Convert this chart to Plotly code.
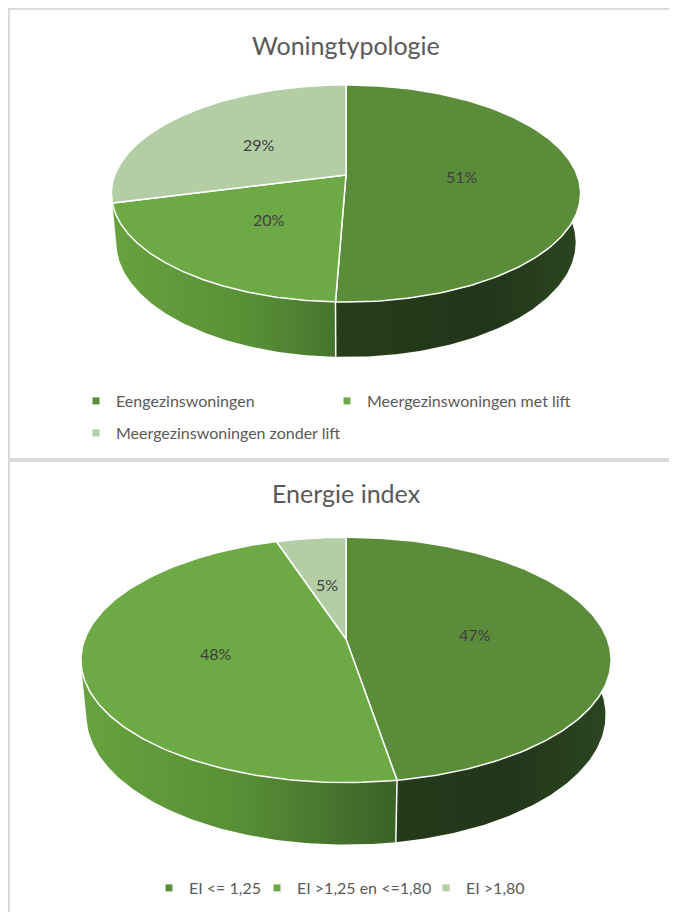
import numpy as np
import plotly.graph_objects as go

# ---------------- data ----------------
typ_title = "Woningtypologie"
typ_labels = ["Eengezinswoningen", "Meergezinswoningen met lift", "Meergezinswoningen zonder lift"]
typ_values = [50.6, 20.3, 29.1]

ei_title = "Energie index"
ei_labels = ["EI <= 1,25", "EI >1,25 en <=1,80", "EI >1,80"]
ei_values = [47.4, 47.6, 5.0]

top_colors = ["#5B8C3A", "#6DAA45", "#B3CEA5"]
side_scales = [
    [[0, "#3A5C27"], [0.5, "#263D1A"], [0.8, "#22361A"], [1, "#2B4620"]],
    [[0, "#67A33F"], [0.3, "#588F36"], [0.57, "#3D6529"], [1, "#2C4A1D"]],
    [[0, "#9DBF8A"], [1, "#4A6A3A"]],
]

W, Hpx = 677, 912
PAGE_OFF = 8  # browser body margin
# perspective camera of the 3D pie
F, D, S, C = 1209.0, 5.23, 0.456, 0.890
DEPTH = 0.24


def proj(theta_deg, Y, cx, cy, k, r=1.0):
    t = np.radians(theta_deg)
    X = r * np.sin(t)
    Z = r * np.cos(t)
    up = Y * C + Z * S
    dep = D + Z * C - Y * S
    return cx + k * F * X / dep, cy - k * F * up / dep


fig = go.Figure()


def add_pie(values, cx, cy, k):
    total = float(sum(values))
    bounds = np.concatenate([[0.0], np.cumsum(values) / total * 360.0])
    xl, _ = proj(260.0, 0, cx, cy, k)
    xr, _ = proj(100.0, 0, cx, cy, k)
    # sides
    for i in range(len(values)):
        a, b = bounds[i], bounds[i + 1]
        lo, hi = max(a, 80.0), min(b, 258.0)
        if hi <= lo:
            continue
        th = np.linspace(lo, hi, 120)
        tx, ty = proj(th, 0, cx, cy, k)
        bx, by = proj(th[::-1], -DEPTH, cx, cy, k)
        xs = np.concatenate([tx, bx, tx[:1]])
        ys = np.concatenate([ty, by, ty[:1]])
        fig.add_trace(go.Scatter(
            x=xs, y=ys, mode="lines", fill="toself", line=dict(width=0),
            fillgradient=dict(type="horizontal", colorscale=side_scales[i],
                              start=xl, stop=xr),
            hoverinfo="skip", showlegend=False))
    # vertical boundary edges on the side
    for bth in bounds[:-1]:
        if 110.0 <= bth <= 250.0:
            x0, y0 = proj(bth, 0, cx, cy, k)
            x1, y1 = proj(bth, -DEPTH, cx, cy, k)
            fig.add_trace(go.Scatter(x=[x0, x1], y=[y0, y1], mode="lines",
                                     line=dict(color="white", width=1.5),
                                     hoverinfo="skip", showlegend=False))
    # top faces
    for i in range(len(values)):
        a, b = bounds[i], bounds[i + 1]
        th = np.linspace(a, b, 160)
        ax_, ay_ = proj(th, 0, cx, cy, k)
        xs = np.concatenate([[cx], ax_, [cx]])
        ys = np.concatenate([[cy], ay_, [cy]])
        fig.add_trace(go.Scatter(x=xs, y=ys, mode="lines", fill="toself",
                                 fillcolor=top_colors[i],
                                 line=dict(color="white", width=1.5),
                                 hoverinfo="skip", showlegend=False))
    # data labels
    anns = []
    for i, v in enumerate(values):
        mid = (bounds[i] + bounds[i + 1]) / 2.0
        lx, ly = proj(mid, 0, cx, cy, k, r=0.5)
        anns.append(dict(x=lx, y=ly, xref="x", yref="y", text=f"{v / total * 100:.0f}%",
                         showarrow=False, font=dict(family="Lato", size=16, color="#404040")))
    return anns


annotations = []
annotations += add_pie(typ_values, 346, 175, 1.0)
annotations += add_pie(ei_values, 346, 639, 1.13)

annotations.append(dict(x=346, y=45, xref="x", yref="y", text=typ_title, showarrow=False,
                        font=dict(family="Lato", size=25, color="#595959")))
annotations.append(dict(x=346, y=493, xref="x", yref="y", text=ei_title, showarrow=False,
                        font=dict(family="Lato", size=25, color="#595959")))

# legends
TEXT_OFF = 40
legend_pos = {
    "legend": (116, 401), "legend2": (367, 401), "legend3": (116, 433),
    "legend4": (189, 888), "legend5": (297, 888), "legend6": (466, 888),
}
leg_names = ["legend", "legend2", "legend3", "legend4", "legend5", "legend6"]
all_labels = typ_labels + ei_labels
all_colors = top_colors + top_colors
for name, lab, col in zip(leg_names, all_labels, all_colors):
    fig.add_trace(go.Scatter(x=[None], y=[None], mode="markers", name=lab,
                             marker=dict(symbol="square", size=7, color=col),
                             legend=name, showlegend=True))

layout_legends = {}
for name in leg_names:
    px, py = legend_pos[name]
    layout_legends[name] = dict(
        x=(px - PAGE_OFF - TEXT_OFF) / W, y=1 - (py - PAGE_OFF) / Hpx,
        xanchor="left", yanchor="middle",
        bgcolor="rgba(0,0,0,0)", borderwidth=0, itemwidth=30,
        font=dict(family="Lato", size=16, color="#595959"))

border = "#D9D9D9"
shapes = [
    dict(type="line", xref="x", yref="y", x0=9, x1=9, y0=8, y1=930, line=dict(color=border, width=2)),
    dict(type="line", xref="x", yref="y", x0=8, x1=700, y0=9, y1=9, line=dict(color=border, width=2)),
    dict(type="line", xref="x", yref="y", x0=8, x1=700, y0=460, y1=460, line=dict(color=border, width=4)),
]

fig.update_layout(
    width=W, height=Hpx, margin=dict(l=0, r=0, t=0, b=0),
    paper_bgcolor="white", plot_bgcolor="white",
    xaxis=dict(range=[PAGE_OFF, W + PAGE_OFF], visible=False, fixedrange=True),
    yaxis=dict(range=[Hpx + PAGE_OFF, PAGE_OFF], visible=False, fixedrange=True),
    annotations=annotations, shapes=shapes, hovermode=False,
    **layout_legends,
)

fig.write_html("out.html")
